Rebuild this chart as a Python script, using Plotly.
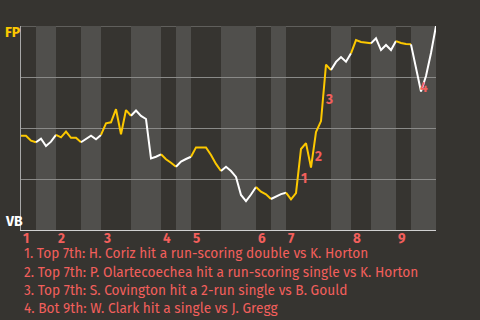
import plotly.graph_objects as go

# Win probability for FP (top) after each play, in percent
play_idx = list(range(84))
fp_prob = [46.2, 46.2, 43.8, 43.0, 44.8, 41.2, 43.3, 46.6, 45.4, 48.2,
           45.2, 45.2, 43.0, 44.5, 46.2, 44.5, 46.6, 52.3, 52.8, 59.2,
           46.9, 58.8, 56.0, 58.6, 55.9, 54.4, 35.1, 35.9, 37.1, 34.7,
           33.0, 31.0, 33.5, 34.8, 35.9, 40.5, 40.5, 40.5, 36.8, 32.4,
           28.9, 31.0, 28.9, 26.0, 17.2, 14.2, 17.4, 21.1, 18.8, 17.5,
           15.2, 16.4, 17.6, 18.3, 15.0, 18.1, 39.7, 42.6, 30.6, 48.0,
           53.4, 81.1, 78.4, 82.4, 84.8, 82.5, 86.6, 93.1, 92.2, 91.7,
           91.5, 94.0, 88.2, 90.7, 88.2, 92.6, 91.7, 91.2, 91.0, 78.9,
           67.9, 75.5, 86.8, 100.0]

# last play index of each half-inning (Top 1, Bot 1, ..., Bot 9)
half_ends = [3, 7, 12, 16, 22, 28, 31, 34, 40, 47, 50, 53, 62, 66, 70, 75, 78, 83]
innings = ["1", "2", "3", "4", "5", "6", "7", "8", "9"]

# key plays (index of the play that ends the swing)
event_plays = [56, 59, 61, 80]
event_labels = ["1", "2", "3", "4"]
event_texts = [
    "1. Top 7th: H. Coriz hit a run-scoring double vs K. Horton",
    "2. Top 7th: P. Olartecoechea hit a run-scoring single vs K. Horton",
    "3. Top 7th: S. Covington hit a 2-run single vs B. Gould",
    "4. Bot 9th: W. Clark hit a single vs J. Gregg",
]

BG = "#363430"
BAND = "#504f4c"
GRID = "#8a8a88"
YELLOW = "#fcc800"
WHITE = "#ffffff"
RED = "#f25f5c"
FONT = "Fira Sans, Lato, sans-serif"

fig = go.Figure()

starts = [0] + half_ends[:-1]


def half_of(i):
    for h, e in enumerate(half_ends):
        if i <= e:
            return h
    return len(half_ends) - 1


# group segments by half-inning color (top = FP batting = yellow)
segs = []
for i in range(1, len(play_idx)):
    col = YELLOW if half_of(play_idx[i]) % 2 == 0 else WHITE
    if segs and segs[-1][0] == col:
        segs[-1][1].append(i)
    else:
        segs.append([col, [i - 1, i]])

for col, idxs in segs:
    fig.add_trace(go.Scatter(
        x=[play_idx[k] for k in idxs], y=[fp_prob[k] for k in idxs],
        mode="lines", line=dict(color=col, width=2), hoverinfo="skip",
        showlegend=False))

shapes = []
for h in range(1, len(half_ends), 2):
    shapes.append(dict(type="rect", xref="x", yref="y", x0=starts[h], x1=half_ends[h],
                       y0=0, y1=100, fillcolor=BAND, line_width=0, layer="below"))
shapes.append(dict(type="line", xref="paper", yref="y", x0=0, x1=1, y0=100, y1=100,
                   line=dict(color=GRID, width=1), layer="below"))

annotations = []
for n, h in enumerate(range(0, len(half_ends), 2)):
    annotations.append(dict(x=starts[h], y=-0.044, xref="x", yref="paper", text=innings[n],
                            showarrow=False, xanchor="left", yanchor="middle", xshift=0,
                            font=dict(family=FONT, size=13.5, color=RED, weight="bold")))

for lab, p in zip(event_labels, event_plays):
    mx = (play_idx[p] + play_idx[p - 1]) / 2
    my = (fp_prob[p] + fp_prob[p - 1]) / 2
    annotations.append(dict(x=mx, y=my, xref="x", yref="y", text=lab, showarrow=False,
                            xanchor="center", yanchor="middle", xshift=5, yshift=-7,
                            font=dict(family=FONT, size=13.5, color=RED, weight="bold")))

for k, t in enumerate(event_texts):
    annotations.append(dict(x=0.003, y=-0.1176 - k * 0.0883, xref="paper", yref="paper",
                            text=t, showarrow=False, xanchor="left", yanchor="middle",
                            font=dict(family=FONT, size=13.7, color=RED)))

annotations.append(dict(x=-0.0433, y=0.9657, xref="paper", yref="paper", text="FP",
                        showarrow=False, xanchor="left", yanchor="middle",
                        font=dict(family=FONT, size=14, color=YELLOW, weight="bold")))
annotations.append(dict(x=-0.0433, y=0.044, xref="paper", yref="paper", text="VB",
                        showarrow=False, xanchor="left", yanchor="middle",
                        font=dict(family=FONT, size=14, color=WHITE, weight="bold")))

fig.update_layout(
    width=480, height=320,
    margin=dict(l=21, r=44, t=26, b=90),
    paper_bgcolor=BG, plot_bgcolor=BG,
    shapes=shapes, annotations=annotations,
    xaxis=dict(range=[0, 83], showgrid=False, zeroline=False, showticklabels=False,
               showline=True, linecolor="#d0d0d0", linewidth=1, fixedrange=True),
    yaxis=dict(range=[0, 100], dtick=25, showgrid=True, gridcolor=GRID, gridwidth=1,
               zeroline=False, showticklabels=False, showline=True,
               linecolor="#a8a8a8", linewidth=1, fixedrange=True),
    font=dict(family=FONT),
)

fig.write_html("out.html", config={"displayModeBar": False})
